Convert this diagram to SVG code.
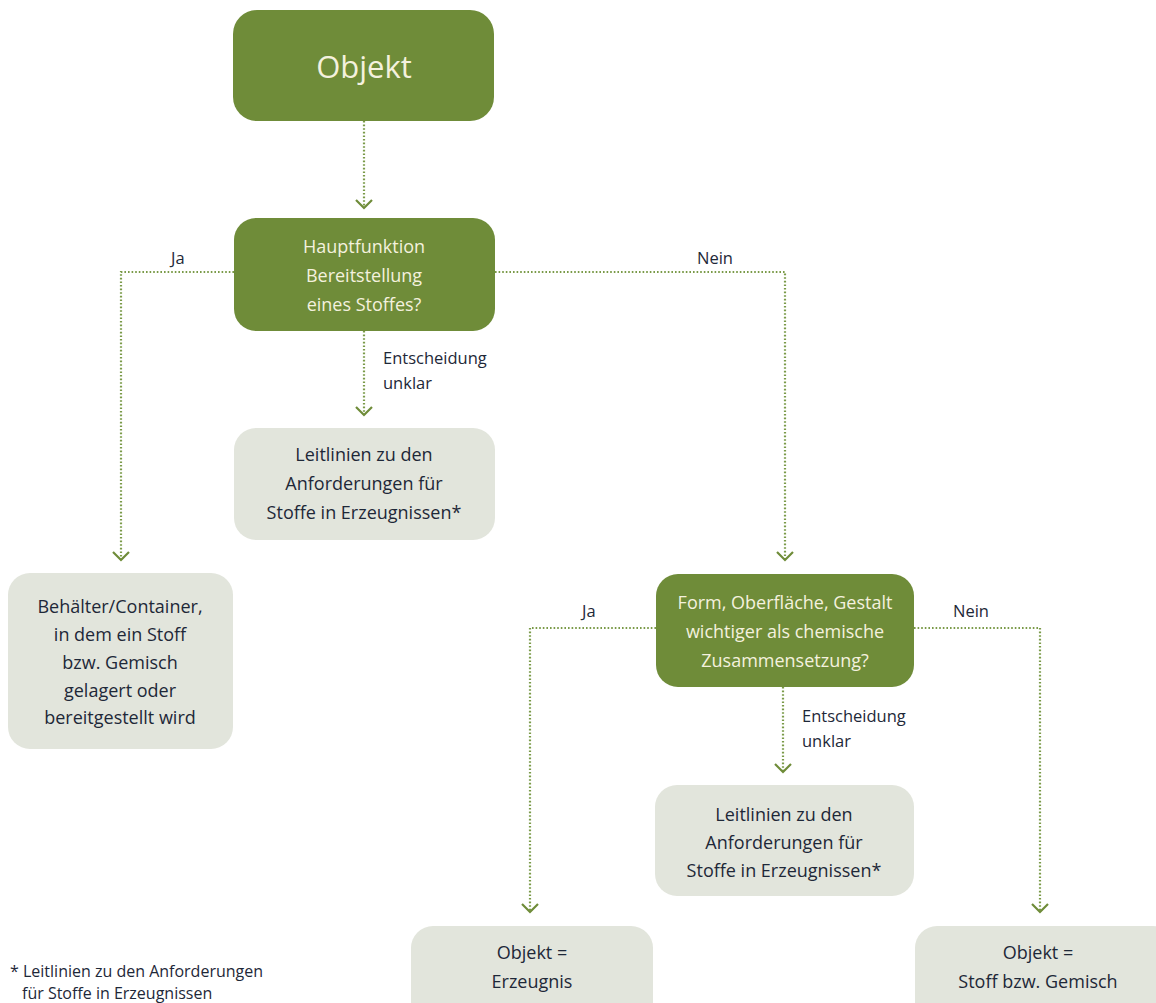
<svg xmlns="http://www.w3.org/2000/svg" width="1156" height="1003" viewBox="0 0 1156 1003">
<style>
.g{fill:#6f8c39}
.l{fill:#e2e5dc}
.tw{font-family:"Open Sans","Liberation Sans",sans-serif;font-size:18px;fill:#f4f1de;text-anchor:middle}
.td{font-family:"Open Sans","Liberation Sans",sans-serif;font-size:18px;fill:#1e2838;text-anchor:middle}
.lb{font-family:"Open Sans","Liberation Sans",sans-serif;font-size:16.5px;fill:#1e2838}
.fn{font-family:"Open Sans","Liberation Sans",sans-serif;font-size:16px;fill:#1e2838}
.c{fill:none;stroke:#7a9a48;stroke-width:2.2;stroke-dasharray:1.6 2}
</style>
<defs>
<marker id="ah" viewBox="0 0 20 12" refX="10" refY="10" markerWidth="20" markerHeight="12" markerUnits="userSpaceOnUse" orient="0">
<path d="M2 2 L10 10 L18 2" fill="none" stroke="#6f8c39" stroke-width="2.2"/>
</marker>
</defs>
<rect width="1156" height="1003" fill="#ffffff"/>
<g id="connectors">
<path class="c" d="M364 121 V208" marker-end="url(#ah)"/>
<path class="c" d="M234 272 H121 V560" marker-end="url(#ah)"/>
<path class="c" d="M495 272 H785 V560" marker-end="url(#ah)"/>
<path class="c" d="M364 331 V415" marker-end="url(#ah)"/>
<path class="c" d="M656 628 H530 V912" marker-end="url(#ah)"/>
<path class="c" d="M914 628 H1040 V912" marker-end="url(#ah)"/>
<path class="c" d="M783 687 V772" marker-end="url(#ah)"/>
<text class="lb" x="171" y="264">Ja</text>
<text class="lb" x="697" y="264">Nein</text>
<text class="lb" x="383" y="364">Entscheidung</text>
<text class="lb" x="383" y="389">unklar</text>
<text class="lb" x="582" y="617">Ja</text>
<text class="lb" x="953" y="617">Nein</text>
<text class="lb" x="802" y="722">Entscheidung</text>
<text class="lb" x="802" y="747">unklar</text>
</g>
<g id="n-objekt">
<rect class="g" x="233" y="10" width="261" height="111" rx="24"/>
<text class="tw" x="364" y="78" style="font-size:31px">Objekt</text>
</g>
<g id="n-hauptfunktion">
<rect class="g" x="234" y="218" width="261" height="113" rx="22"/>
<text class="tw" x="364" y="253">Hauptfunktion</text>
<text class="tw" x="364" y="282">Bereitstellung</text>
<text class="tw" x="364" y="311">eines Stoffes?</text>
</g>
<g id="n-leitlinien1">
<rect class="l" x="234" y="428" width="261" height="112" rx="22"/>
<text class="td" x="364" y="461">Leitlinien zu den</text>
<text class="td" x="364" y="490">Anforderungen für</text>
<text class="td" x="364" y="519">Stoffe in Erzeugnissen*</text>
</g>
<g id="n-behaelter">
<rect class="l" x="8" y="573" width="225" height="176" rx="22"/>
<text class="td" x="120" y="613">Behälter/Container,</text>
<text class="td" x="120" y="641">in dem ein Stoff</text>
<text class="td" x="120" y="669">bzw. Gemisch</text>
<text class="td" x="120" y="697">gelagert oder</text>
<text class="td" x="120" y="724">bereitgestellt wird</text>
</g>
<g id="n-form">
<rect class="g" x="656" y="574" width="258" height="113" rx="22"/>
<text class="tw" x="785" y="609">Form, Oberfläche, Gestalt</text>
<text class="tw" x="785" y="638">wichtiger als chemische</text>
<text class="tw" x="785" y="667">Zusammensetzung?</text>
</g>
<g id="n-leitlinien2">
<rect class="l" x="655" y="785" width="259" height="111" rx="22"/>
<text class="td" x="784" y="821">Leitlinien zu den</text>
<text class="td" x="784" y="849">Anforderungen für</text>
<text class="td" x="784" y="877">Stoffe in Erzeugnissen*</text>
</g>
<g id="n-erzeugnis">
<rect class="l" x="411" y="926" width="242" height="100" rx="22"/>
<text class="td" x="532" y="959">Objekt =</text>
<text class="td" x="532" y="988">Erzeugnis</text>
</g>
<g id="n-stoff">
<rect class="l" x="915" y="926" width="260" height="100" rx="22"/>
<text class="td" x="1038" y="959">Objekt =</text>
<text class="td" x="1038" y="988">Stoff bzw. Gemisch</text>
</g>
<g id="footnote">
<text class="fn" x="10" y="977">* Leitlinien zu den Anforderungen</text>
<text class="fn" x="22" y="999">für Stoffe in Erzeugnissen</text>
</g>
</svg>
